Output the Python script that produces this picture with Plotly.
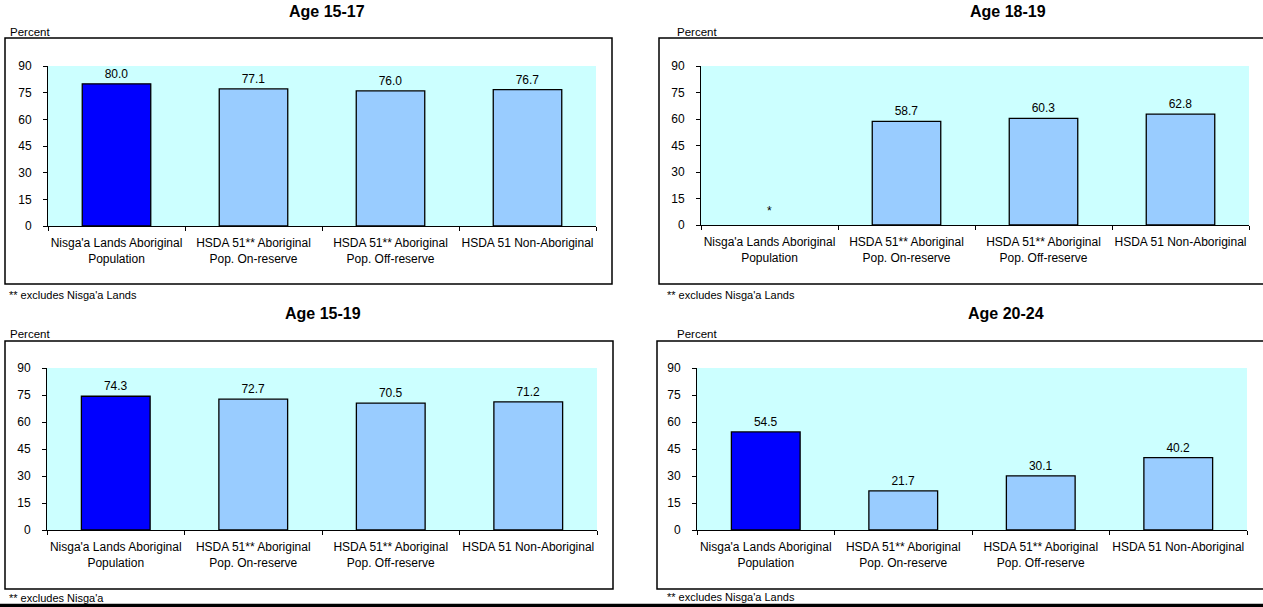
import plotly.graph_objects as go

# ---------------- data ----------------
categories = [
    "Nisga'a Lands Aboriginal<br>Population",
    "HSDA 51** Aboriginal<br>Pop. On-reserve",
    "HSDA 51** Aboriginal<br>Pop. Off-reserve",
    "HSDA 51 Non-Aboriginal",
]
age_15_17 = [80.0, 77.1, 76.0, 76.7]
age_18_19 = [None, 58.7, 60.3, 62.8]
age_15_19 = [74.3, 72.7, 70.5, 71.2]
age_20_24 = [54.5, 21.7, 30.1, 40.2]
panel_titles = ["Age 15-17", "Age 18-19", "Age 15-19", "Age 20-24"]
panel_notes = ["** excludes Nisga'a Lands", "** excludes Nisga'a Lands",
               "** excludes Nisga'a", "** excludes Nisga'a Lands"]
suppressed_label = "*"
y_ticks = [0, 15, 30, 45, 60, 75, 90]
y_label = "Percent"

# ---------------- styling / layout ----------------
W, H = 1263, 607
FONT = "Liberation Sans, Arial, sans-serif"
bar_colors = ["#0000FF", "#99CCFF", "#99CCFF", "#99CCFF"]


def px_x(v):
    return v / W


def px_y(v):
    return 1 - v / H


panels = [
    dict(vals=age_15_17, plot=(48, 596, 66, 226), box=(5, 612, 38, 284),
         title=(327, 11), pct=(8, 32), note=(7, 295)),
    dict(vals=age_18_19, plot=(701, 1249, 66, 225), box=(659, 1275, 38, 284),
         title=(1008, 11), pct=(675, 32), note=(665, 295)),
    dict(vals=age_15_19, plot=(47, 597, 368, 530), box=(5, 613, 341, 589),
         title=(323, 313), pct=(8, 334), note=(7, 598)),
    dict(vals=age_20_24, plot=(697, 1247, 368, 530), box=(657, 1275, 341, 589),
         title=(1006, 313), pct=(675, 334), note=(665, 597)),
]

fig = go.Figure()
annotations = []
shapes = []
layout_axes = {}

for i, p in enumerate(panels):
    n = "" if i == 0 else str(i + 1)
    x0, x1, y0, y1 = p["plot"]
    fig.add_trace(go.Bar(
        x=categories, y=p["vals"],
        xaxis="x" + n, yaxis="y" + n,
        width=0.5,
        marker=dict(color=bar_colors, line=dict(color="black", width=1.3)),
        texttemplate="%{y:.1f}", textposition="outside",
        textfont=dict(family=FONT, size=12, color="black"),
        cliponaxis=False, showlegend=False, hoverinfo="x+y",
    ))
    layout_axes["xaxis" + n] = dict(
        domain=[px_x(x0), px_x(x1)], anchor="y" + n,
        type="category", tickson="boundaries", ticks="outside", ticklen=4,
        tickcolor="black", showline=True, linecolor="black", linewidth=1,
        showgrid=False, tickangle=0, automargin=False, ticklabelstandoff=6,
        tickfont=dict(family=FONT, size=12, color="black"),
        fixedrange=True,
    )
    layout_axes["yaxis" + n] = dict(
        domain=[px_y(y1), px_y(y0)], anchor="x" + n,
        range=[0, 90], tickvals=y_ticks, ticks="outside", ticklen=4,
        tickcolor="black", showline=True, linecolor="black", linewidth=1,
        showgrid=False, zeroline=False, automargin=False, ticklabelstandoff=9,
        tickfont=dict(family=FONT, size=12, color="black"), fixedrange=True,
    )
    # suppressed values
    for cat, v in zip(categories, p["vals"]):
        if v is None:
            annotations.append(dict(
                x=cat, y=0, xref="x" + n, yref="y" + n, text=suppressed_label,
                showarrow=False, yanchor="bottom", yshift=5,
                font=dict(family=FONT, size=12, color="black")))
    bx0, bx1, by0, by1 = p["box"]
    shapes.append(dict(type="rect", xref="paper", yref="paper",
                       x0=px_x(bx0), x1=px_x(bx1), y0=px_y(by1), y1=px_y(by0),
                       line=dict(color="black", width=1.5), layer="below"))
    tx, ty = p["title"]
    annotations.append(dict(x=px_x(tx), y=px_y(ty), xref="paper", yref="paper",
                            text="<b>" + panel_titles[i] + "</b>", showarrow=False,
                            xanchor="center", yanchor="middle",
                            font=dict(family=FONT, size=16, color="black")))
    qx, qy = p["pct"]
    annotations.append(dict(x=px_x(qx), y=px_y(qy), xref="paper", yref="paper",
                            text=y_label, showarrow=False,
                            xanchor="left", yanchor="middle",
                            font=dict(family=FONT, size=11.5, color="black")))
    nx, ny = p["note"]
    annotations.append(dict(x=px_x(nx), y=px_y(ny), xref="paper", yref="paper",
                            text=panel_notes[i], showarrow=False,
                            xanchor="left", yanchor="middle",
                            font=dict(family=FONT, size=11, color="black")))

# thick rule at the bottom of the page
shapes.append(dict(type="line", xref="paper", yref="paper",
                   x0=0, x1=1, y0=px_y(605.5), y1=px_y(605.5),
                   line=dict(color="black", width=3.5)))

fig.update_layout(
    width=W, height=H,
    margin=dict(l=0, r=0, t=0, b=0, pad=0),
    paper_bgcolor="white", plot_bgcolor="#CCFFFF",
    font=dict(family=FONT, size=12, color="black"),
    annotations=annotations, shapes=shapes,
    bargap=0.5,
    **layout_axes,
)

fig.write_html("out.html", config={"displayModeBar": False},
               post_script="document.body.style.margin='0';")
